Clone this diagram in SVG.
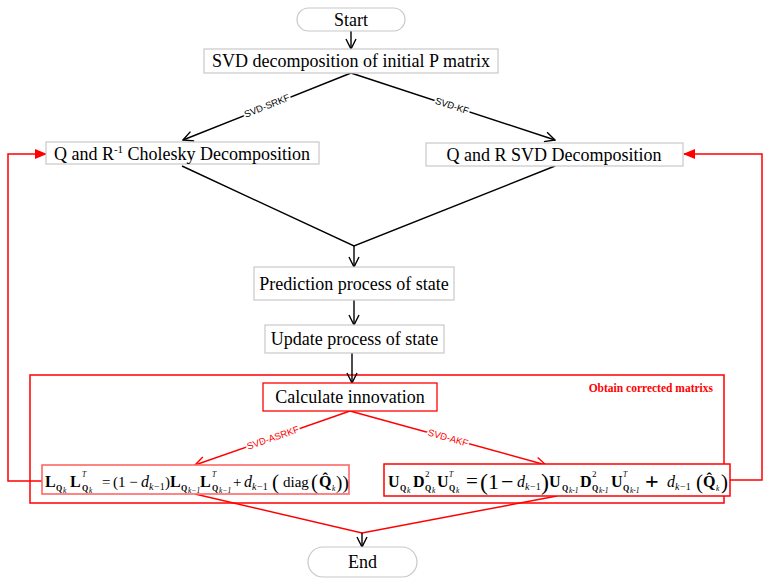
<svg xmlns="http://www.w3.org/2000/svg" width="772" height="585" viewBox="0 0 772 585">
<style>
.box{fill:#fff;stroke:#c8c8c8;stroke-width:1.2}
.rbox{fill:#fff;stroke:#f00;stroke-width:1.3}
.t{font-family:"Liberation Serif",serif;font-size:18px;fill:#000;text-anchor:middle}
.lbl{font-family:"Liberation Sans",sans-serif;font-size:9.5px;text-anchor:middle;paint-order:stroke;stroke:#fff;stroke-width:3px}
.k{stroke:#000;stroke-width:1.4;fill:none}
.r{stroke:#f00;stroke-width:1.5;fill:none}
.f{font-family:"Liberation Serif",serif;fill:#000}
.mb{font-weight:bold;font-size:16px}
.sb{font-weight:bold;font-size:8px}
.si{font-style:italic;font-size:7.5px}
.it{font-style:italic}
</style>
<defs>
<marker id="ak" viewBox="0 0 12 12" refX="11" refY="6" markerWidth="12" markerHeight="12" markerUnits="userSpaceOnUse" orient="auto">
<path d="M1,1 L11,6 L1,11" fill="none" stroke="#000" stroke-width="1.4"/>
</marker>
<marker id="ar" viewBox="0 0 12 12" refX="11" refY="6" markerWidth="12" markerHeight="12" markerUnits="userSpaceOnUse" orient="auto">
<path d="M1,1 L11,6 L1,11" fill="none" stroke="#f00" stroke-width="1.4"/>
</marker>
<marker id="arf" viewBox="0 0 12 12" refX="11" refY="6" markerWidth="12" markerHeight="12" markerUnits="userSpaceOnUse" orient="auto">
<path d="M0,1 L12,6 L0,11 Z" fill="#f00"/>
</marker>
</defs>

<g id="container">
<rect x="30" y="375" width="694" height="128" fill="none" stroke="#f00" stroke-width="1.5"/>
<text x="713" y="392" font-family="Liberation Serif,serif" font-weight="bold" font-size="11.5" fill="#f00" text-anchor="end">Obtain corrected matrixs</text>
</g>

<g id="connectors">
<line class="k" x1="351" y1="31" x2="351" y2="49" marker-end="url(#ak)"/>
<line class="k" x1="351" y1="73" x2="183" y2="140" marker-end="url(#ak)"/>
<line class="k" x1="351" y1="73" x2="555" y2="140" marker-end="url(#ak)"/>
<polyline class="k" points="182,166 354,246 555,166"/>
<line class="k" x1="354" y1="246" x2="354" y2="267" marker-end="url(#ak)"/>
<line class="k" x1="354" y1="300" x2="354" y2="325" marker-end="url(#ak)"/>
<line class="k" x1="352" y1="353" x2="352" y2="383" marker-end="url(#ak)"/>
<line class="r" x1="350" y1="411" x2="195" y2="465" marker-end="url(#ar)"/>
<line class="r" x1="350" y1="411" x2="546" y2="465" marker-end="url(#ar)"/>
<polyline class="r" points="195,494 362,533 557,496"/>
<line class="k" x1="362" y1="533" x2="362" y2="547" marker-end="url(#ak)"/>
<polyline class="r" points="42,481 8,481 8,154 46,154" marker-end="url(#arf)"/>
<polyline class="r" points="730,480 762,480 762,154 684,154" marker-end="url(#arf)"/>
<text class="lbl" transform="translate(267,106) rotate(-21.6)" dy="3" fill="#000">SVD-SRKF</text>
<text class="lbl" transform="translate(452,106) rotate(18.2)" dy="3" fill="#000">SVD-KF</text>
<text class="lbl" transform="translate(273,438) rotate(-19.2)" dy="3" fill="#f00">SVD-ASRKF</text>
<text class="lbl" transform="translate(448,438) rotate(15.8)" dy="3" fill="#f00">SVD-AKF</text>
</g>

<g id="start">
<rect x="297" y="8" width="108" height="23" rx="11.5" class="box"/>
<text class="t" x="351" y="26">Start</text>
</g>

<g id="svd-init">
<rect x="204" y="49" width="294" height="24" class="box"/>
<text class="t" x="351" y="67">SVD decomposition of initial P matrix</text>
</g>

<g id="cholesky">
<rect x="46" y="142" width="273" height="22" class="box"/>
<text class="t" x="182" y="160">Q and R<tspan font-size="11" dy="-7">-1</tspan><tspan dy="7"> Cholesky Decomposition</tspan></text>
</g>

<g id="svd-qr">
<rect x="426" y="143" width="257" height="23" class="box"/>
<text class="t" x="554" y="161">Q and R SVD Decomposition</text>
</g>

<g id="prediction">
<rect x="254" y="267" width="200" height="33" class="box"/>
<text class="t" x="354" y="290">Prediction process of state</text>
</g>

<g id="update">
<rect x="265" y="325" width="179" height="28" class="box"/>
<text class="t" x="354.5" y="345">Update process of state</text>
</g>

<g id="innovation">
<rect x="263" y="383" width="174" height="28" class="rbox"/>
<text class="t" x="350" y="403">Calculate innovation</text>
</g>

<g id="formula-left">
<rect x="42" y="465" width="307" height="29" fill="#fff" stroke="#f66" stroke-width="1.6"/>
<text class="f mb" x="45" y="487">L</text>
<text class="f sb" x="56" y="491">Q</text><text class="f si" x="63" y="493">k</text>
<text class="f mb" x="70" y="487">L</text>
<text class="f si" x="82" y="477" font-size="9">T</text>
<text class="f sb" x="82" y="491">Q</text><text class="f si" x="89" y="493">k</text>
<text class="f" x="102" y="487" font-size="15">=</text>
<text class="f" x="113" y="487" font-size="15">(1 −</text>
<text class="f it" x="141" y="487" font-size="16">d</text>
<text class="f it" x="149" y="490" font-size="10">k</text><text class="f" x="154" y="490" font-size="10">−1</text>
<text class="f" x="165" y="487" font-size="15">)</text>
<text class="f mb" x="170" y="487">L</text>
<text class="f sb" x="181" y="491">Q</text><text class="f si" x="188" y="493">k−1</text>
<text class="f mb" x="200" y="487">L</text>
<text class="f si" x="212" y="477" font-size="9">T</text>
<text class="f sb" x="212" y="491">Q</text><text class="f si" x="219" y="493">k−1</text>
<text class="f" x="233" y="487" font-size="15">+</text>
<text class="f it" x="244" y="487" font-size="16">d</text>
<text class="f it" x="252" y="490" font-size="10">k</text><text class="f" x="257" y="490" font-size="10">−1</text>
<text class="f" x="272" y="489" font-size="21">(</text>
<text class="f" x="283" y="487" font-size="15">diag</text>
<text class="f" x="311" y="489" font-size="21">(</text>
<text class="f mb" x="319" y="487">Q&#x302;</text>
<text class="f si" x="332" y="491" font-size="8">k</text>
<text class="f" x="336" y="489" font-size="19">)</text>
<text class="f" x="342.5" y="489" font-size="19">)</text>
</g>

<g id="formula-right">
<rect x="384" y="464" width="346" height="32" fill="#fff" stroke="#f00" stroke-width="1.5"/>
<text class="f mb" x="388" y="487">U</text>
<text class="f sb" x="400" y="491">Q</text><text class="f si" x="407" y="493">k</text>
<text class="f mb" x="413" y="487">D</text>
<text class="f" x="425" y="477" font-size="9">2</text>
<text class="f sb" x="425" y="491">Q</text><text class="f si" x="432" y="493">k</text>
<text class="f mb" x="437" y="487">U</text>
<text class="f si" x="449" y="477" font-size="9">T</text>
<text class="f sb" x="449" y="491">Q</text><text class="f si" x="456" y="493">k</text>
<text class="f" x="466" y="488" font-size="21">=</text>
<text class="f" x="480" y="490" font-size="24">(</text>
<text class="f" x="488" y="489" font-size="22">1</text>
<text class="f" x="501" y="489" font-size="22">−</text>
<text class="f it" x="517" y="487" font-size="16">d</text>
<text class="f it" x="525" y="490" font-size="10">k</text><text class="f" x="530" y="490" font-size="10">−1</text>
<text class="f" x="541" y="490" font-size="24">)</text>
<text class="f mb" x="549" y="487">U</text>
<text class="f sb" x="562" y="491">Q</text><text class="f si" x="569" y="493">k-1</text>
<text class="f mb" x="580" y="487">D</text>
<text class="f" x="592" y="477" font-size="9">2</text>
<text class="f sb" x="592" y="491">Q</text><text class="f si" x="599" y="493">k-1</text>
<text class="f mb" x="611" y="487">U</text>
<text class="f si" x="623" y="477" font-size="9">T</text>
<text class="f sb" x="623" y="491">Q</text><text class="f si" x="630" y="493">k-1</text>
<text class="f" x="645" y="489" font-size="24" font-weight="bold">+</text>
<text class="f it" x="667" y="487" font-size="16">d</text>
<text class="f it" x="675" y="490" font-size="10">k</text><text class="f" x="680" y="490" font-size="10">−1</text>
<text class="f" x="696" y="489" font-size="21">(</text>
<text class="f mb" x="703" y="487">Q&#x302;</text>
<text class="f si" x="716" y="491" font-size="8">k</text>
<text class="f" x="721" y="489" font-size="21">)</text>
</g>

<g id="end">
<rect x="308" y="547" width="109" height="30" rx="15" class="box"/>
<text class="t" x="362.5" y="568">End</text>
</g>
</svg>
